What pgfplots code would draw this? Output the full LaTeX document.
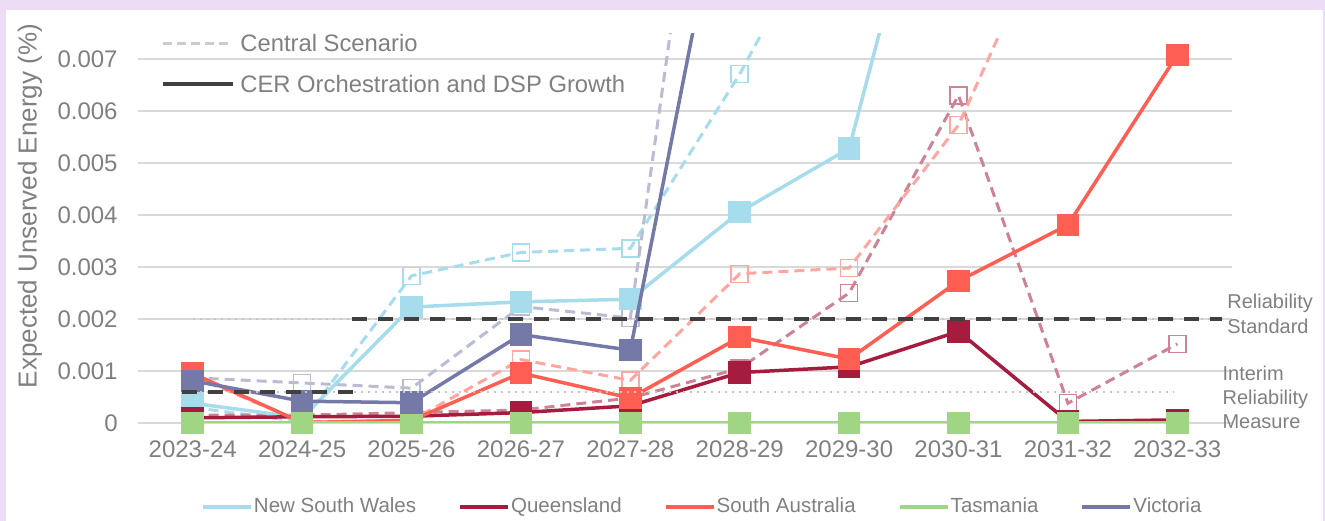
\documentclass[border=0pt]{standalone}
\usepackage{pgfplots}
\pgfplotsset{compat=1.18}
\usepackage{fontspec}
\setmainfont{Liberation Sans}

\definecolor{frame}{RGB}{237,220,245}
\definecolor{txt}{RGB}{128,128,128}
\definecolor{gridc}{RGB}{217,217,217}
\definecolor{nsw}{RGB}{166,220,235}
\definecolor{qld}{RGB}{165,28,62}
\definecolor{sa}{RGB}{255,94,82}
\definecolor{tas}{RGB}{160,214,131}
\definecolor{vic}{RGB}{117,121,168}
\definecolor{std}{RGB}{64,64,64}

% solid = CER Orchestration and DSP Growth, dashed = Central Scenario
\tikzset{
  cer/.style={line width=1.75bp, mark=square*, mark size=4.75bp, mark options={solid}},
  cen/.style={line width=1.5bp, dash pattern=on 5bp off 3bp, mark=square, mark size=4.25bp,
              mark options={solid, line width=0.75bp}},
}

\begin{document}
\begin{tikzpicture}
\fill[frame] (0,0) rectangle (662.5bp,260.5bp);
\fill[white] (3bp,0) rectangle (661.5bp,255.5bp);
\begin{axis}[
  at={(69bp,49bp)}, anchor=south west,
  width=547bp, height=195bp, scale only axis,
  xmin=-0.5, xmax=9.5, ymin=0, ymax=0.0075,
  clip mode=individual, clip marker paths=false,
  xtick={0,...,9},
  xticklabels={2023-24,2024-25,2025-26,2026-27,2027-28,2028-29,2029-30,2030-31,2031-32,2032-33},
  ytick={0,0.001,0.002,0.003,0.004,0.005,0.006,0.007},
  scaled y ticks=false,
  /pgf/number format/fixed, /pgf/number format/precision=3,
  /pgf/number format/assume math mode=true,
  major tick length=0pt,
  axis line style={draw=none},
  ymajorgrids, grid style={draw=gridc, line width=0.75bp},
  tick label style={text=txt, font=\fontsize{12bp}{14bp}\selectfont},
  xticklabel style={anchor=center, yshift=-13bp},
  yticklabel style={anchor=east, inner sep=0pt, xshift=-10bp},
  ylabel={Expected Unserved Energy (\%)},
  ylabel style={at={(axis description cs:-0.0987,0.556)}, anchor=center, text=txt,
                font=\fontsize{13bp}{15bp}\selectfont},
  legend columns=5,
  legend style={at={(axis description cs:0.0572,-0.2154)}, anchor=west, draw=none, fill=none,
                inner sep=0pt, column sep=0pt, nodes={inner sep=0.5bp},
                font=\fontsize{10.25bp}{12bp}\selectfont, text=txt,
                /tikz/every even column/.append style={column sep=20.5bp}},
  legend image code/.code={\draw[#1, solid, line width=2bp] (0bp,0bp) -- (24bp,0bp);},
]

% central scenario (dashed, open squares)
\addplot[cen, color=nsw, forget plot, mark indices={1,2,3,4,5,6}] coordinates {
(0,0.0003) (1,0.00002) (2,0.00283) (3,0.00328) (4,0.00336) (5,0.00671) (6,0.0106)};
\addplot[cen, color=qld!55!white, forget plot] coordinates {
(0,0.00015) (1,0.00015) (2,0.0002) (3,0.00025) (4,0.00048) (5,0.00105) (6,0.0025) (7,0.0063) (8,0.00038) (9,0.00152)};
\addplot[cen, color=sa!55!white, forget plot, mark indices={1,2,3,4,5,6,7,8}] coordinates {
(0,0.0009) (1,0.00002) (2,0.00005) (3,0.00122) (4,0.00082) (5,0.00287) (6,0.00298) (7,0.00573) (8,0.0104)};
\addplot[cen, color=tas!70!white, forget plot] coordinates {
(0,0) (1,0) (2,0) (3,0) (4,0) (5,0) (6,0) (7,0) (8,0) (9,0)};
\addplot[cen, color=vic!50!white, forget plot, mark indices={1,2,3,4,5}] coordinates {
(0,0.00087) (1,0.00077) (2,0.00067) (3,0.00224) (4,0.00202) (5,0.017)};

% CER orchestration and DSP growth (solid, filled squares)
\addplot[cer, color=nsw, mark indices={1,2,3,4,5,6,7}] coordinates {
(0,0.00038) (1,0.0001) (2,0.00223) (3,0.00233) (4,0.00238) (5,0.00406) (6,0.00528) (7,0.0133)};
\addlegendentry{New South Wales}
\addplot[cer, color=qld] coordinates {
(0,0.0001) (1,0.00012) (2,0.00013) (3,0.0002) (4,0.00033) (5,0.00097) (6,0.00108) (7,0.00176) (8,0.00003) (9,0.00006)};
\addlegendentry{Queensland}
\addplot[cer, color=sa] coordinates {
(0,0.00095) (1,0.00001) (2,0.00005) (3,0.00096) (4,0.00048) (5,0.00165) (6,0.00123) (7,0.00273) (8,0.00381) (9,0.00708)};
\addlegendentry{South Australia}
\addplot[cer, color=tas] coordinates {
(0,0) (1,0) (2,0) (3,0) (4,0) (5,0) (6,0) (7,0) (8,0) (9,0)};
\addlegendentry{Tasmania}
\addplot[cer, color=vic, mark indices={1,2,3,4,5}] coordinates {
(0,0.00081) (1,0.00042) (2,0.00039) (3,0.0017) (4,0.0014) (5,0.0121)};
\addlegendentry{Victoria}

% reliability standard and interim reliability measure
\addplot[gray!45, line width=1bp, dash pattern=on 1bp off 2.5bp, forget plot] coordinates {(0,0.002) (9.41,0.002)};
\addplot[gray!45, line width=1bp, dash pattern=on 1bp off 2.5bp, forget plot] coordinates {(0,0.0006) (8.96,0.0006)};
\addplot[std, line width=2bp, dash pattern=on 7.5bp off 5.5bp, forget plot] coordinates {(-0.1,0.0006) (1.48,0.0006)};
\addplot[std, line width=2bp, dash pattern=on 7.5bp off 5.5bp, forget plot] coordinates {(1.46,0.002) (9.41,0.002)};

% scenario key, top left
\draw[gray!40, line width=1.5bp, dash pattern=on 4.5bp off 2.5bp]
  (axis cs:-0.2715,0.0073077) -- (axis cs:0.368,0.0073077);
\node[anchor=west, inner sep=0pt, text=txt, font=\fontsize{11.9bp}{14bp}\selectfont]
  at (axis cs:0.432,0.0073077) {Central Scenario};
\draw[std, line width=2bp] (axis cs:-0.2715,0.006519) -- (axis cs:0.368,0.006519);
\node[anchor=west, inner sep=0pt, text=txt, font=\fontsize{11.9bp}{14bp}\selectfont]
  at (axis cs:0.432,0.006519) {CER Orchestration and DSP Growth};

\node[anchor=west, align=left, inner sep=0pt, text=txt, font=\fontsize{10bp}{12.5bp}\selectfont]
  at (axis cs:9.454,0.0021) {Reliability\\Standard};
\node[anchor=west, align=left, inner sep=0pt, text=txt, font=\fontsize{10bp}{12bp}\selectfont]
  at (axis cs:9.41,0.0005) {Interim\\Reliability\\Measure};
\end{axis}
\end{tikzpicture}
\end{document}
